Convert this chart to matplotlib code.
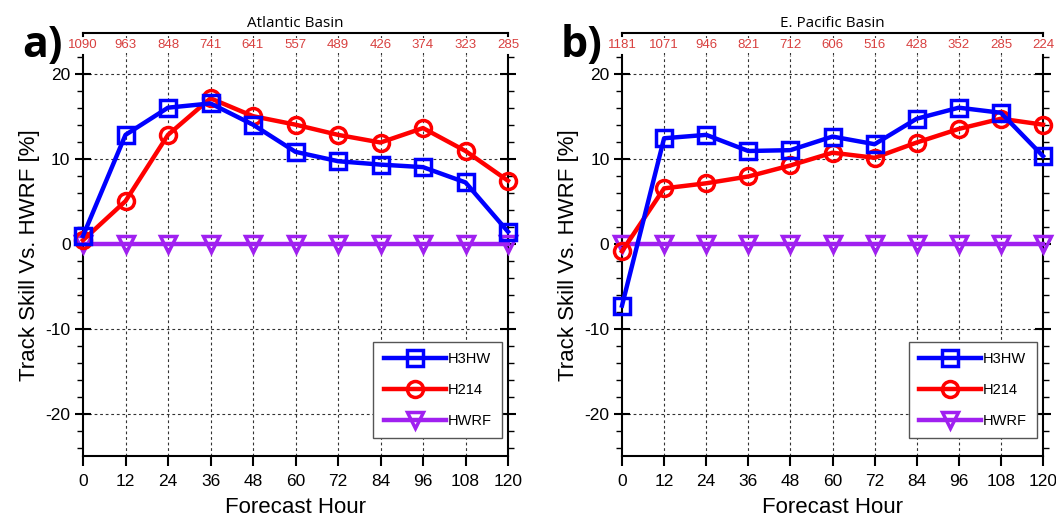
import numpy as np
import matplotlib
matplotlib.use("Agg")
from matplotlib import pyplot as plt
from matplotlib.ticker import MultipleLocator

plt.rcParams['font.family'] = ['Liberation Sans', 'DejaVu Sans']
plt.rcParams['axes.unicode_minus'] = False

hours = [0, 12, 24, 36, 48, 60, 72, 84, 96, 108, 120]

# Atlantic basin
atl_counts = [1090, 963, 848, 741, 641, 557, 489, 426, 374, 323, 285]
atl_h3hw = [0.9, 12.8, 16.0, 16.5, 14.0, 10.8, 9.7, 9.3, 9.0, 7.2, 1.4]
atl_h214 = [0.4, 5.0, 12.8, 17.1, 15.0, 14.0, 12.8, 11.9, 13.6, 10.9, 7.4]
atl_hwrf = [0, 0, 0, 0, 0, 0, 0, 0, 0, 0, 0]

# E. Pacific basin
epac_counts = [1181, 1071, 946, 821, 712, 606, 516, 428, 352, 285, 224]
epac_h3hw = [-7.3, 12.4, 12.8, 10.9, 11.0, 12.6, 11.7, 14.7, 16.0, 15.4, 10.3]
epac_h214 = [-0.9, 6.5, 7.1, 7.9, 9.2, 10.7, 10.1, 11.9, 13.5, 14.7, 14.0]
epac_hwrf = [0, 0, 0, 0, 0, 0, 0, 0, 0, 0, 0]

W, H = 1056, 518
fig = plt.figure(figsize=(W / 100, H / 100), dpi=100)

count_color = '#d8403f'
grid_kw = dict(color='#333333', linestyle=(0, (2.5, 2.5)), linewidth=0.8)


def panel(x0, x1, letter, title, counts, h3hw, h214, hwrf):
    top, bottom, brk = 55, 456, 33
    ax = fig.add_axes([x0 / W, 1 - bottom / H, (x1 - x0) / W, (bottom - top) / H])
    axt = fig.add_axes([x0 / W, 1 - top / H, (x1 - x0) / W, (top - brk) / H])

    ax.plot(hours, hwrf, color='#a020f0', lw=3.2, marker='v', ms=11.5, mfc='none',
            mew=2.5, label='HWRF', zorder=3, clip_on=False)
    ax.plot(hours, h214, color='#ff0000', lw=3.2, marker='o', ms=11.5, mfc='none',
            mew=2.5, label='H214', zorder=4, clip_on=False)
    ax.plot(hours, h3hw, color='#0000ff', lw=3.2, marker='s', ms=11.5, mfc='none',
            mew=2.5, label='H3HW', zorder=5, clip_on=False)

    ax.set_xlim(0, 120)
    ax.set_ylim(-25, 22.2)
    ax.set_xticks(hours)
    ax.set_yticks([-20, -10, 0, 10, 20])
    ax.yaxis.set_minor_locator(MultipleLocator(2))
    ax.tick_params(axis='x', direction='out', length=7, width=1.5, labelsize=12.5, pad=6,
                   top=False)
    ax.tick_params(axis='y', which='major', direction='inout', length=12, width=1.5,
                   labelsize=12.5, left=True, right=True, pad=3)
    ax.tick_params(axis='y', which='minor', direction='out', length=4, width=1,
                   left=True, right=True)
    for s in ['bottom', 'left', 'right']:
        ax.spines[s].set_linewidth(1.5)
    ax.spines['top'].set_visible(False)
    for v in [-20, -10, 10, 20]:
        ax.axhline(v, zorder=1, **grid_kw)
    for h in hours[1:-1]:
        ax.axvline(h, zorder=1, **grid_kw)

    ax.set_xlabel('Forecast Hour', fontsize=16, labelpad=6)
    ax.set_ylabel('Track Skill Vs. HWRF [%]', fontsize=16, labelpad=4)

    handles, labels = ax.get_legend_handles_labels()
    leg = ax.legend(handles[::-1], labels[::-1], loc='lower right',
                    bbox_to_anchor=(0.986, 0.045), fontsize=10.5, frameon=True,
                    fancybox=False, edgecolor='#555555', framealpha=1,
                    handlelength=4.3, handletextpad=0.1, labelspacing=1.15,
                    borderpad=0.7, borderaxespad=0)
    leg.get_frame().set_linewidth(1.0)

    # count bracket above the plot
    axt.set_xlim(0, 120)
    axt.set_ylim(0, 1)
    axt.set_xticks([])
    axt.set_yticks([])
    axt.patch.set_alpha(0)
    axt.spines['bottom'].set_visible(False)
    for s in ['left', 'right']:
        axt.spines[s].set_bounds(0.85, 1)
        axt.spines[s].set_linewidth(1.5)
    axt.spines['top'].set_linewidth(1.5)
    for h in hours[1:-1]:
        axt.axvline(h, **grid_kw)
    for h, c in zip(hours, counts):
        axt.text(h, 0.45, str(c), ha='center', va='center', fontsize=9.5,
                 color=count_color, clip_on=False,
                 bbox=dict(facecolor='white', edgecolor='none', pad=1.0))
    axt.set_title(title, fontsize=11, family=['Open Sans', 'DejaVu Sans'], pad=4)

    fig.text((x0 - 40) / W, 1 - 45 / H, letter, fontsize=31, fontweight='bold',
             family=['Open Sans', 'DejaVu Sans'], ha='center', va='center')


panel(83, 508, 'a)', 'Atlantic Basin', atl_counts, atl_h3hw, atl_h214, atl_hwrf)
panel(622, 1043, 'b)', 'E. Pacific Basin', epac_counts, epac_h3hw, epac_h214, epac_hwrf)

fig.savefig('out.png', dpi=100)
